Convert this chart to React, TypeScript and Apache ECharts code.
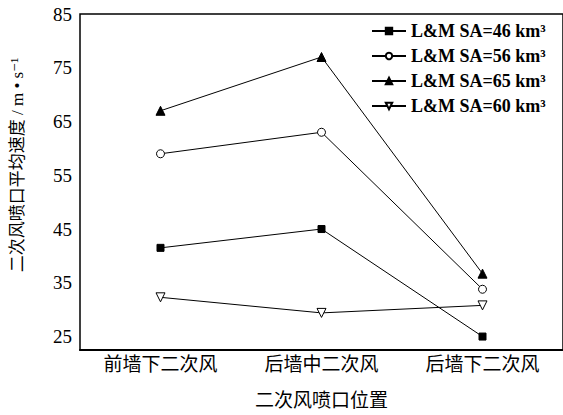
import React, { useEffect, useRef } from "react";
import * as echarts from "echarts";

const categories = ["前墙下二次风", "后墙中二次风", "后墙下二次风"];
const seriesNames = ["L&M SA=46 km³", "L&M SA=56 km³", "L&M SA=65 km³", "L&M SA=60 km³"];
const sa46 = [41.5, 45, 25];
const sa56 = [59, 63, 33.8];
const sa65 = [67, 77, 36.7];
const sa60 = [32.3, 29.4, 30.8];
const yTicks = [25, 35, 45, 55, 65, 75, 85];
const yName = "二次风喷口平均速度 / m • s⁻¹";
const xName = "二次风喷口位置";

const SERIF = '"Liberation Serif", "DejaVu Serif", "Noto Sans CJK SC", serif';

export default function App() {
  const ref = useRef<HTMLDivElement>(null);
  useEffect(() => {
    if (!ref.current) return;
    const chart = echarts.init(ref.current, undefined, { renderer: "svg" });
    const downTri = "path://M0,0 L10,0 L5,9 Z";
    const mk = (name: string, data: number[], symbol: string, filled: boolean, size: number) => ({
      name,
      type: "line",
      data,
      symbol,
      symbolSize: size,
      showAllSymbol: true,
      lineStyle: { color: "#000", width: 1 },
      itemStyle: { color: filled ? "#000" : "#fff", borderColor: "#000", borderWidth: 1 },
    });
    chart.setOption({
      animation: false,
      backgroundColor: "#fff",
      grid: {
        left: 80,
        right: -2,
        top: 14,
        bottom: 58,
        show: true,
        borderColor: "#000",
        borderWidth: 1.5,
      },
      legend: {
        orient: "vertical",
        left: 366,
        top: 17,
        itemWidth: 34,
        itemHeight: 8,
        itemGap: 7,
        data: seriesNames,
        textStyle: { fontFamily: SERIF, fontWeight: "bold", fontSize: 18, color: "#000" },
      },
      graphic: [
        {
          type: "text",
          x: 17,
          y: 165,
          rotation: Math.PI / 2,
          style: {
            text: yName,
            fontFamily: SERIF,
            fontSize: 17,
            fill: "#000",
            align: "center",
            verticalAlign: "middle",
          },
        },
      ],
      xAxis: {
        type: "category",
        data: categories,
        boundaryGap: true,
        name: xName,
        nameLocation: "middle",
        nameGap: 41,
        nameTextStyle: { fontFamily: SERIF, fontSize: 19, color: "#000" },
        axisLine: { lineStyle: { color: "#000", width: 2 } },
        axisTick: { inside: true, length: 6, alignWithLabel: true, lineStyle: { color: "#000", width: 1.5 } },
        axisLabel: { fontFamily: SERIF, fontSize: 19, color: "#000", margin: 5 },
      },
      yAxis: {
        type: "value",
        min: 22.5,
        max: 85,
        interval: 10,
        axisLine: { lineStyle: { color: "#000", width: 2 } },
        axisTick: { inside: true, length: 7, customValues: yTicks, lineStyle: { color: "#000", width: 1.5 } },
        splitLine: { show: false },
        axisLabel: {
          fontFamily: SERIF,
          fontSize: 19,
          color: "#000",
          margin: 8,
          customValues: yTicks,
        },
      },
      series: [
        mk(seriesNames[0], sa46, "rect", true, 7),
        mk(seriesNames[1], sa56, "circle", false, 8),
        mk(seriesNames[2], sa65, "triangle", true, 9),
        mk(seriesNames[3], sa60, downTri, false, 9),
      ],
    });
    return () => chart.dispose();
  }, []);
  return (
    <div
      ref={ref}
      style={{ position: "fixed", left: 0, top: 0, width: 563, height: 415 }}
    />
  );
}
